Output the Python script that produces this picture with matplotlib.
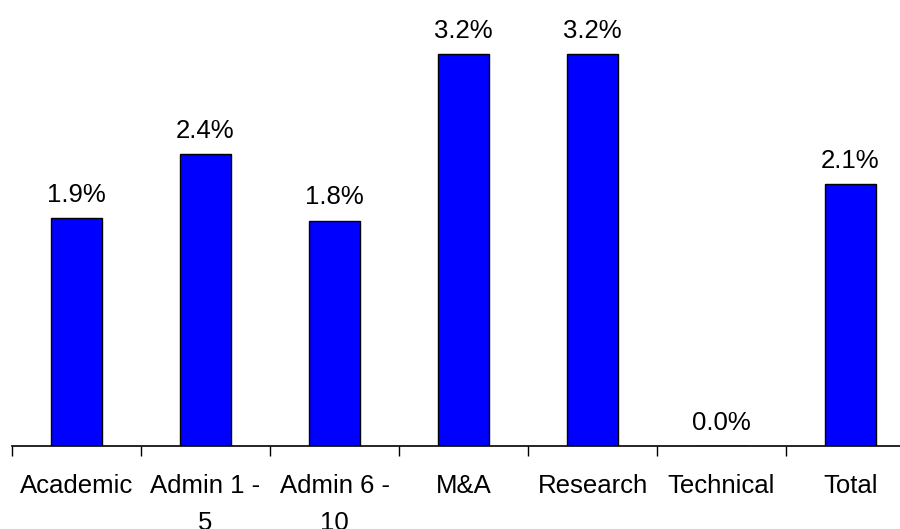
import matplotlib.pyplot as plt
import numpy as np

categories = ["Academic", "Admin 1 -\n5", "Admin 6 -\n10", "M&A", "Research", "Technical", "Total"]
values = [1.86, 2.38, 1.84, 3.2, 3.2, 0.0, 2.14]
labels = ["1.9%", "2.4%", "1.8%", "3.2%", "3.2%", "0.0%", "2.1%"]

plt.rcParams["font.family"] = ["Liberation Sans", "DejaVu Sans"]

fig = plt.figure(figsize=(9, 5.29), dpi=100)
ax = fig.add_axes([12 / 900, 1 - 446 / 529, 903 / 900, 441 / 529])

x = np.arange(len(categories))
bars = ax.bar(x, values, width=0.4, color="#0000FF", edgecolor="black", linewidth=1)

for xi, v, lab in zip(x, values, labels):
    ax.annotate(lab, (xi, v), xytext=(0, 8), textcoords="offset points",
                ha="center", va="bottom", fontsize=18.5)

ax.set_xlim(-0.5, len(categories) - 0.5)
ax.set_ylim(0, 3.6)

ax.set_xticks(x)
ax.set_xticklabels(categories, fontsize=18.5, linespacing=1.7)
ax.tick_params(axis="x", which="major", length=0, pad=20)
ax.set_xticks(np.arange(-0.5, len(categories), 1), minor=True)
ax.tick_params(axis="x", which="minor", length=7, width=1)

ax.set_yticks([])
for side in ["left", "right", "top"]:
    ax.spines[side].set_visible(False)
ax.spines["bottom"].set_linewidth(1.2)

fig.savefig("out.png", dpi=100)
